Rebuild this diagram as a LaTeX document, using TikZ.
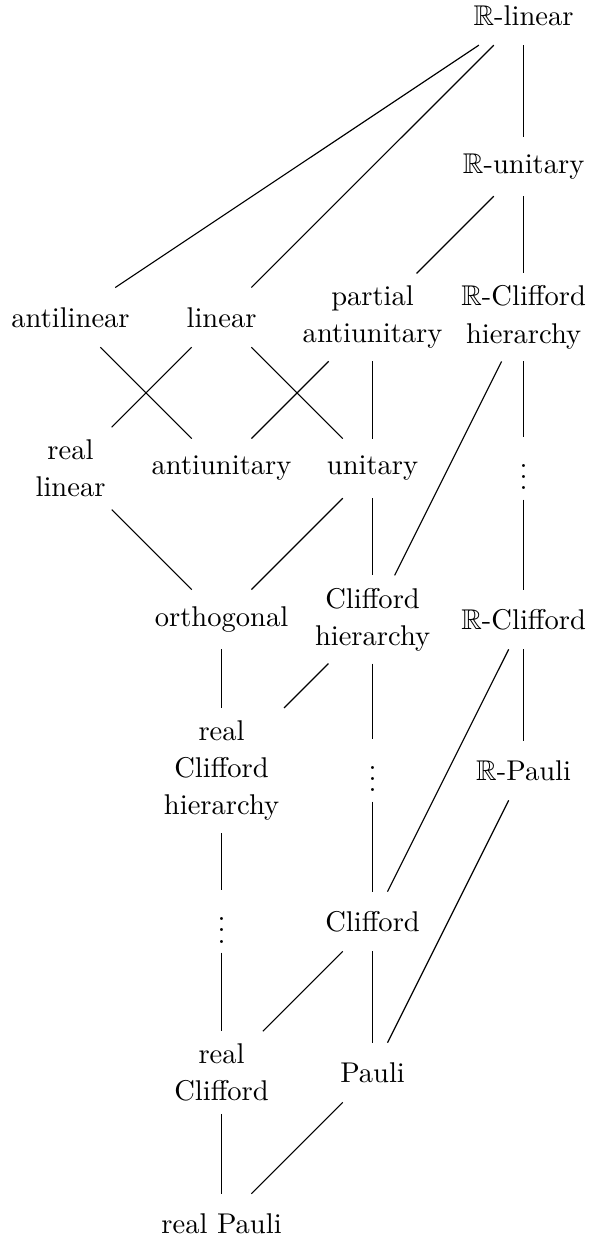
\documentclass[tikz,border=0pt]{standalone}
\usepackage{amssymb}
\begin{document}
\begin{tikzpicture}[x=1pt,y=1pt,
  lab/.style={font=\fontsize{10}{13}\selectfont, align=center, inner sep=4.2pt, minimum height=20.5pt},
  dotsnode/.style={inner xsep=2pt, inner ysep=0pt, minimum height=21.4pt},
  edge/.style={line width=0.4pt}]
\useasboundingbox (0,0) rectangle (206.3,-434.66);
% columns: 24.7, 77.6, 130.5, 183.4 ; rows: 5.36 + 52.9k
\node[lab] (Rl)  at (183.4,-5.36)   {$\mathbb{R}$-linear};
\node[lab] (Ru)  at (183.4,-58.26)  {$\mathbb{R}$-unitary};
\node[lab] (al)  at (24.7,-111.16)  {antilinear};
\node[lab] (li)  at (77.6,-111.16)  {linear};
\node[lab] (pa)  at (130.5,-111.16) {partial\\antiunitary};
\node[lab] (Rch) at (183.4,-111.16) {$\mathbb{R}$-Clifford\\hierarchy};
\node[lab] (rl)  at (24.7,-164.06)  {real\\linear};
\node[lab] (au)  at (77.6,-164.06)  {antiunitary};
\node[lab] (un)  at (130.5,-164.06) {unitary};
\node[dotsnode] (d1) at (183.4,-164.06) {$\vdots$};
\node[lab] (or)  at (77.6,-216.96)  {orthogonal};
\node[lab] (ch)  at (130.5,-216.96) {Clifford\\hierarchy};
\node[lab] (RC)  at (183.4,-216.96) {$\mathbb{R}$-Clifford};
\node[lab] (rch) at (77.6,-269.86)  {real\\Clifford\\hierarchy};
\node[dotsnode] (d2) at (130.5,-269.86) {$\vdots$};
\node[lab] (RP)  at (183.4,-269.86) {$\mathbb{R}$-Pauli};
\node[dotsnode] (d3) at (77.6,-322.76) {$\vdots$};
\node[lab] (cl)  at (130.5,-322.76) {Clifford};
\node[lab] (rc)  at (77.6,-375.66)  {real\\Clifford};
\node[lab] (pl)  at (130.5,-375.66) {Pauli};
\node[lab] (rp)  at (77.6,-428.56)  {real Pauli};
\foreach \a/\b in {Rl/al, Rl/li, Rl/Ru, Ru/pa, Ru/Rch, al/au, li/rl, li/un,
  pa/au, pa/un, Rch/ch, Rch/d1, rl/or, un/or, un/ch, d1/RC, or/rch, ch/rch,
  ch/d2, RC/RP, RC/cl, rch/d3, d2/cl, RP/pl, d3/rc, cl/rc, cl/pl, rc/rp, pl/rp}
  \draw[edge] (\a) -- (\b);
\end{tikzpicture}
\end{document}
